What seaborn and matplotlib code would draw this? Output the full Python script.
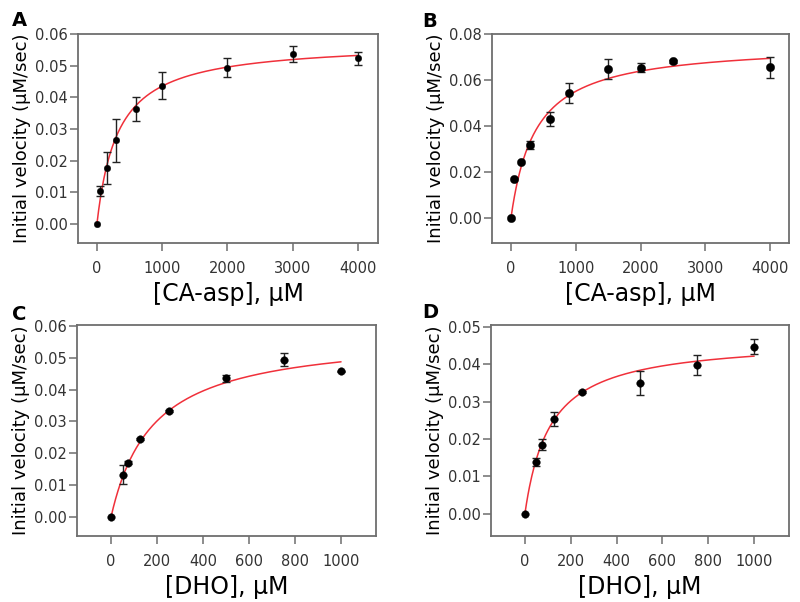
import numpy as np
import pandas as pd
import matplotlib
matplotlib.use("Agg")
import matplotlib.pyplot as plt
import seaborn as sns

# ---- data ----
A_x = [0, 50, 150, 300, 600, 1000, 2000, 3000, 4000]
A_y = [0.0, 0.0105, 0.0177, 0.0264, 0.0363, 0.0437, 0.0494, 0.0538, 0.0523]
A_err = [0.0, 0.0016, 0.0050, 0.0069, 0.0037, 0.0042, 0.0030, 0.0025, 0.0020]
A_fit = (0.0575, 321)   # Vmax, Km of the fitted curve

B_x = [0, 50, 150, 300, 600, 900, 1500, 2000, 2500, 4000]
B_y = [0.0, 0.0168, 0.0243, 0.0316, 0.0429, 0.0543, 0.0648, 0.0654, 0.0681, 0.0655]
B_err = [0.0, 0.0, 0.0, 0.0018, 0.0030, 0.0045, 0.0042, 0.0020, 0.0008, 0.0045]
B_fit = (0.0760, 380)

C_x = [0, 50, 75, 125, 250, 500, 750, 1000]
C_y = [0.0, 0.0132, 0.0170, 0.0245, 0.0333, 0.0435, 0.0494, 0.0457]
C_err = [0.0, 0.0030, 0.0005, 0.0003, 0.0003, 0.0010, 0.0020, 0.0003]
C_fit = (0.0576, 182)

D_x = [0, 50, 75, 125, 250, 500, 750, 1000]
D_y = [0.0, 0.0138, 0.0184, 0.0253, 0.0325, 0.0350, 0.0399, 0.0447]
D_err = [0.0, 0.0010, 0.0015, 0.0019, 0.0003, 0.0032, 0.0027, 0.0020]
D_fit = (0.0468, 110)

panel_letters = ["A", "B", "C", "D"]
x_labels = ["[CA-asp], \u03bcM", "[CA-asp], \u03bcM", "[DHO], \u03bcM", "[DHO], \u03bcM"]
y_label = "Initial velocity (\u03bcM/sec)"

A_xticks = [0, 1000, 2000, 3000, 4000]
A_yticks = [0.00, 0.01, 0.02, 0.03, 0.04, 0.05, 0.06]
B_yticks = [0.00, 0.02, 0.04, 0.06, 0.08]
C_xticks = [0, 200, 400, 600, 800, 1000]
C_yticks = [0.00, 0.01, 0.02, 0.03, 0.04, 0.05, 0.06]
D_yticks = [0.00, 0.01, 0.02, 0.03, 0.04, 0.05]

sns.set_theme(style="ticks")
plt.rcParams["font.family"] = ["DejaVu Sans"]

W, H = 800, 602
fig = plt.figure(figsize=(W / 100, H / 100), dpi=100)

def rect(l, r, t, b):
    return [l / W, 1 - b / H, (r - l) / W, (b - t) / H]

panels = [
    dict(x=A_x, y=A_y, e=A_err, fit=A_fit, xmax=4000, xticks=A_xticks, yticks=A_yticks,
         xlim=(-290, 4310), ylim=(-0.006, 0.0600), rect=rect(78, 378, 34, 243),
         ms=22, lab=(12, 26)),
    dict(x=B_x, y=B_y, e=B_err, fit=B_fit, xmax=4000, xticks=A_xticks, yticks=B_yticks,
         xlim=(-293, 4293), ylim=(-0.0109, 0.0800), rect=rect(492, 789, 34, 243),
         ms=36, lab=(422, 27)),
    dict(x=C_x, y=C_y, e=C_err, fit=C_fit, xmax=1000, xticks=C_xticks, yticks=C_yticks,
         xlim=(-148, 1152), ylim=(-0.006, 0.0603), rect=rect(77, 376, 325, 536),
         ms=30, lab=(12, 320)),
    dict(x=D_x, y=D_y, e=D_err, fit=D_fit, xmax=1000, xticks=C_xticks, yticks=D_yticks,
         xlim=(-148, 1152), ylim=(-0.006, 0.0505), rect=rect(491, 789, 325, 536),
         ms=30, lab=(422, 318)),
]

spine_col = "#6e6e6e"
for i, p in enumerate(panels):
    ax = fig.add_axes(p["rect"])
    df = pd.DataFrame({"x": p["x"], "y": p["y"], "e": p["e"]})
    vmax, km = p["fit"]
    xs = np.linspace(0, p["xmax"], 300)
    fit_df = pd.DataFrame({"x": xs, "y": vmax * xs / (km + xs)})
    sns.lineplot(data=fit_df, x="x", y="y", ax=ax, color="#f0303a", linewidth=1.1, zorder=2)
    eb = df[df["e"] > 0]
    ax.errorbar(eb["x"], eb["y"], yerr=eb["e"], fmt="none", ecolor="#222222",
                elinewidth=1.0, capsize=3.2, capthick=1.0, zorder=3)
    sns.scatterplot(data=df, x="x", y="y", ax=ax, color="black", s=p["ms"],
                    edgecolor="black", linewidth=0.3, zorder=4)
    ax.set_xlim(*p["xlim"])
    ax.set_ylim(*p["ylim"])
    ax.set_xticks(p["xticks"])
    ax.set_yticks(p["yticks"])
    ax.set_xticklabels([str(t) for t in p["xticks"]])
    ax.set_yticklabels([f"{t:.2f}" for t in p["yticks"]])
    for s in ax.spines.values():
        s.set_visible(True)
        s.set_color(spine_col)
        s.set_linewidth(1.3)
    ax.tick_params(axis="both", direction="out", length=6, width=1.1, color=spine_col,
                   labelsize=10.5, labelcolor="#333333")
    ax.tick_params(axis="x", pad=7)
    ax.tick_params(axis="y", pad=1.5)
    ax.set_xlabel(x_labels[i], fontsize=17, color="black", labelpad=4)
    ax.set_ylabel(y_label, fontsize=13, color="black", labelpad=3)
    ax.grid(False)
    fig.text(p["lab"][0] / W, 1 - p["lab"][1] / H, panel_letters[i], fontsize=14,
             fontweight="bold", color="black", ha="left", va="baseline")

fig.savefig("out.png", dpi=100, facecolor="white")
